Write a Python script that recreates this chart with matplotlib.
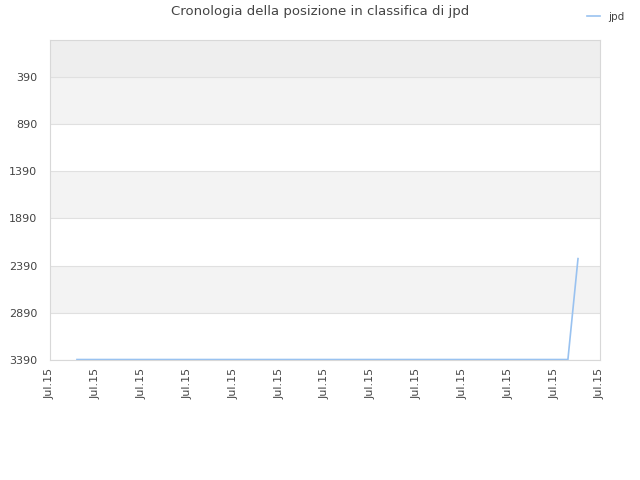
import matplotlib
matplotlib.use('Agg')
import matplotlib.pyplot as plt

# rank history (lower number = better)
x_pos = [0.59, 2.0, 4.0, 6.0, 8.0, 10.0, 11.3, 11.52]
ranks = [3385, 3385, 3385, 3385, 3385, 3385, 3385, 2316]
tick_labels = ['Jul.15'] * 13
y_ticks = [390, 890, 1390, 1890, 2390, 2890, 3390]

fig = plt.figure(figsize=(6.4, 4.8), dpi=100)
ax = fig.add_axes([0.078, 0.25, 0.8595, 0.6667])

# alternating background bands
ax.axhspan(0, 390, color='#eeeeee', zorder=0, lw=0)
bands = [(390, 890), (1390, 1890), (2390, 2890)]
for lo, hi in bands:
    ax.axhspan(lo, hi, color='#f3f3f3', zorder=0, lw=0)
for y in y_ticks:
    ax.axhline(y, color='#e0e0e0', lw=0.8, zorder=1)

ax.plot(x_pos, ranks, color='#99c2f0', lw=1.2, label='jpd', zorder=3)

ax.set_ylim(3390, 0)
ax.set_xlim(0, 12)
ax.set_yticks(y_ticks)
ax.set_xticks(range(13))
ax.set_xticklabels(tick_labels, rotation=90)
ax.tick_params(axis='both', length=0, labelsize=8, colors='#444444')
ax.tick_params(axis='y', pad=9)
ax.tick_params(axis='x', pad=6)

for s in ax.spines.values():
    s.set_color('#d8d8d8')
    s.set_linewidth(0.8)

fig.suptitle('Cronologia della posizione in classifica di jpd', fontsize=9.5,
             color='#444444', y=0.99)
fig.legend(loc='upper right', bbox_to_anchor=(0.99, 0.995), frameon=False,
           fontsize=7.5, handlelength=1.2, labelcolor='#444444')

fig.savefig('out.png', dpi=100)
